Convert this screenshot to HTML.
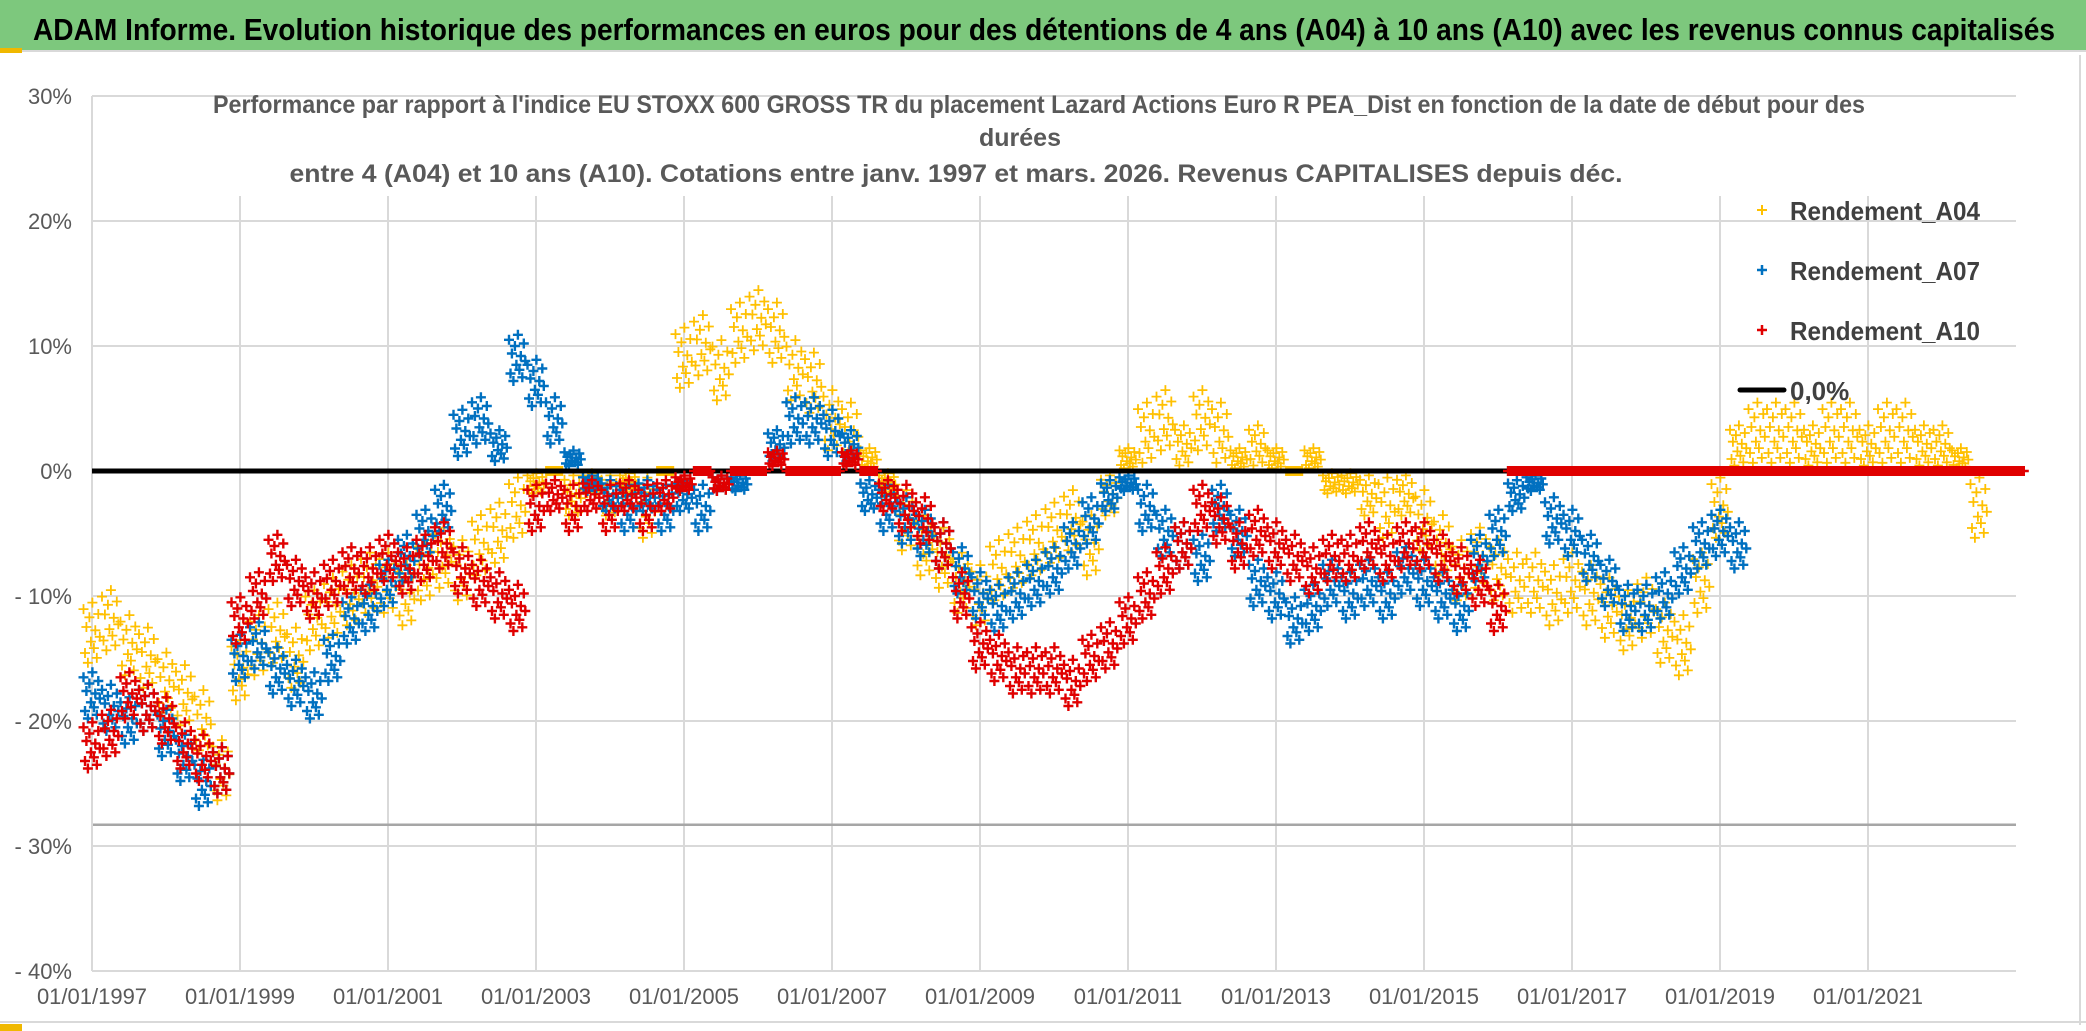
<!DOCTYPE html>
<html><head><meta charset="utf-8"><style>
html,body{margin:0;padding:0;background:#fff}
svg{display:block}
text{font-family:"Liberation Sans Narrow","Liberation Sans",sans-serif}
</style></head><body>
<svg id="chart" width="2086" height="1031" viewBox="0 0 2086 1031" xmlns="http://www.w3.org/2000/svg">
<rect x="0" y="0" width="2086" height="1031" fill="#fff"/>
<rect x="0" y="0" width="2086" height="50" fill="#7dc87d"/>
<line x1="0" y1="51" x2="2086" y2="51" stroke="#d9d9d9" stroke-width="2"/>
<rect x="0" y="48" width="22" height="5" fill="#f0b800"/>
<text x="33" y="40" font-size="31" font-weight="bold" fill="#000" textLength="2022" lengthAdjust="spacingAndGlyphs">ADAM Informe. Evolution historique des performances en euros pour des détentions de 4 ans (A04) à 10 ans (A10) avec les revenus connus capitalisés</text>
<line x1="2080" y1="55" x2="2080" y2="1025" stroke="#d9d9d9" stroke-width="2"/>
<line x1="0" y1="1022" x2="2086" y2="1022" stroke="#d9d9d9" stroke-width="2"/>
<rect x="0" y="1024" width="22" height="7" fill="#f0b800"/>
<g id="grid"></g>
<g id="axes"></g>
<g id="series"></g>
<text x="1039" y="113" font-size="25" font-weight="bold" fill="#595959" text-anchor="middle" textLength="1652" lengthAdjust="spacingAndGlyphs">Performance  par rapport à l'indice EU STOXX 600 GROSS TR  du placement Lazard Actions Euro R PEA_Dist en fonction de la date de début pour des</text>
<text x="1020" y="146" font-size="25" font-weight="bold" fill="#595959" text-anchor="middle">durées</text>
<text x="956" y="182" font-size="25" font-weight="bold" fill="#595959" text-anchor="middle" textLength="1333" lengthAdjust="spacingAndGlyphs">entre 4 (A04) et 10 ans (A10). Cotations entre janv. 1997 et mars. 2026. Revenus CAPITALISES depuis déc.</text>
<g id="legend">
<g><path d="M1757 210h10M1762 205v10" stroke="#ffc000" stroke-width="2"/><text x="1790" y="220" font-size="26" font-weight="bold" fill="#404040" textLength="190" lengthAdjust="spacingAndGlyphs">Rendement_A04</text></g>
<g><path d="M1757 270h10M1762 265v10" stroke="#0070c0" stroke-width="2.5"/><text x="1790" y="280" font-size="26" font-weight="bold" fill="#404040" textLength="190" lengthAdjust="spacingAndGlyphs">Rendement_A07</text></g>
<g><path d="M1757 330h10M1762 325v10" stroke="#e00000" stroke-width="2.5"/><text x="1790" y="340" font-size="26" font-weight="bold" fill="#404040" textLength="190" lengthAdjust="spacingAndGlyphs">Rendement_A10</text></g>
<g><line x1="1740" y1="390" x2="1784" y2="390" stroke="#000" stroke-width="5" stroke-linecap="round"/><text x="1790" y="400" font-size="26" font-weight="bold" fill="#404040">0,0%</text></g>
</g>
</svg>
<script>
const yTicks=[30,20,10,0,-10,-20,-30,-40];
const yTickLabels=["30%","20%","10%","0%","- 10%","- 20%","- 30%","- 40%"];
const xTicks=[1997,1999,2001,2003,2005,2007,2009,2011,2013,2015,2017,2019,2021];
const xTickLabels=["01/01/1997","01/01/1999","01/01/2001","01/01/2003","01/01/2005","01/01/2007","01/01/2009","01/01/2011","01/01/2013","01/01/2015","01/01/2017","01/01/2019","01/01/2021"];
const minLine=-28.3;
const startA04=1997.0;
const valuesA04=[-13,-12,-14,-15,-17,-18,-20,-24,-16,-14,-13,-15,-12,-11,-10,-9,-9,-10,-8,-7,-8,-6,-5,-3,-1,0,-2,-1,-2,-1,-3,0,9,10,8,11,12,11,8,7,4,3,1,-1,-4,-6,-7,-9,-10,-8,-7,-6,-5,-4,-6,-2,1,3,4,2,4,3,1,2,1,0,1,-1,-1,-2,-3,-2,-4,-6,-8,-7,-8,-9,-9,-10,-9,-10,-11,-12,-11,-13,-14,-9,-3,2,3,3,3,2,3,3,2,3,3,2,2,1,-3];
const startA07=1997.0;
const valuesA07=[-18,-19,-20,-19,-21,-23,-25,-24,-15,-14,-16,-17,-18,-15,-12,-11,-9,-7,-5,-3,3,4,2,9,7,4,1,-1,-2,-3,-2,-3,-2,-3,-1,-1,0,2,4,4,3,2,-2,-3,-4,-5,-6,-8,-10,-11,-10,-9,-8,-6,-4,-2,-1,-3,-5,-6,-7,-3,-5,-9,-10,-12,-11,-9,-10,-9,-10,-8,-9,-10,-11,-7,-5,-2,-1,-4,-5,-7,-9,-11,-11,-10,-8,-6,-5,-6];
const startA10=1997.0;
const valuesA10=[-22,-21,-18,-19,-20,-22,-23,-24,-12,-10,-7,-9,-10,-9,-8,-8,-7,-8,-7,-6,-8,-9,-10,-11,-3,-2,-3,-2,-3,-2,-3,-2,-1,0,-1,0,0,1,0,0,0,1,0,-2,-3,-4,-6,-10,-14,-15,-16,-16,-16,-17,-15,-14,-12,-10,-8,-6,-3,-4,-6,-5,-6,-7,-8,-7,-7,-6,-7,-6,-6,-7,-8,-9,-11,0,0,0,0,0,0,0,0,0,0,0,0,0,0,0,0,0,0,0,0,0,0,0,0,0,0,0,0];
const step=0.25;

const X0=92,PX_PER_YEAR=74,Y0=471,PX_PER_PCT=12.5,XR=2016;
function xs(y){return X0+(y-1997)*PX_PER_YEAR;}
function ys(v){return Y0-v*PX_PER_PCT;}
const NS="http://www.w3.org/2000/svg";
function mk(tag,attrs,parent){const e=document.createElementNS(NS,tag);for(const k in attrs)e.setAttribute(k,attrs[k]);parent.appendChild(e);return e;}
const grid=document.getElementById('grid'),axes=document.getElementById('axes'),ser=document.getElementById('series');
yTicks.forEach((t,i)=>{
  const l=mk('line',{x1:X0,x2:XR,y1:ys(t),y2:ys(t),stroke:'#d9d9d9','stroke-width':2},grid);
  
  
  const tx=mk('text',{x:72,y:ys(t)+8,'font-size':22,fill:'#595959','text-anchor':'end'},axes);
  tx.textContent=yTickLabels[i];
  
  
});
xTicks.forEach((t,i)=>{
  const l=mk('line',{x1:xs(t),x2:xs(t),y1:ys(20)-25,y2:ys(-40),stroke:'#d9d9d9','stroke-width':2},grid);
  
  
  const tx=mk('text',{x:xs(t),y:1004,'font-size':22,fill:'#595959','text-anchor':'middle'},axes);
  tx.textContent=xTickLabels[i];
  
  
});
const ml=mk('line',{x1:X0,x2:XR,y1:ys(minLine),y2:ys(minLine),stroke:'#a6a6a6','stroke-width':2.5},grid);


const ax=mk('line',{x1:X0,x2:X0,y1:ys(30),y2:ys(-40),stroke:'#d9d9d9','stroke-width':2},grid);



const ODX=[-0.115,-0.095,-0.075,-0.055,-0.035,-0.015,0.005,0.025,0.045,0.065,0.085,0.105];
const ODY=[1.5,-1.2,0.4,-1.8,1.0,-0.5,1.9,-0.9,0.2,-1.5,1.2,-0.2];
function drawSeries(vals,start,color,sw,name,spread){
  let d='';
  vals.forEach((v,i)=>{
    const yr=start+i*step;
    const k=Math.min(1,Math.abs(v)/3)*spread;
    for(let j=0;j<ODX.length;j++){
      const x=xs(yr+ODX[j]),y=ys(v+ODY[j]*k);
      d+='M'+(x-5).toFixed(1)+' '+y.toFixed(1)+'h10M'+x.toFixed(1)+' '+(y-5).toFixed(1)+'v10';
    }
  });
  const p=mk('path',{d:d,stroke:color,'stroke-width':sw,fill:'none'},ser);
  
  
}
drawSeries(valuesA04,startA04,'#ffc000',1.8,'series-a04',1.3);
drawSeries(valuesA07,startA07,'#0070c0',2.4,'series-a07',1.0);
const zl=mk('line',{x1:X0,x2:XR,y1:ys(0),y2:ys(0),stroke:'#000',"stroke-width":5},ser);


drawSeries(valuesA10,startA10,'#e00000',2.4,'series-a10',1.0);
</script>
</body></html>
